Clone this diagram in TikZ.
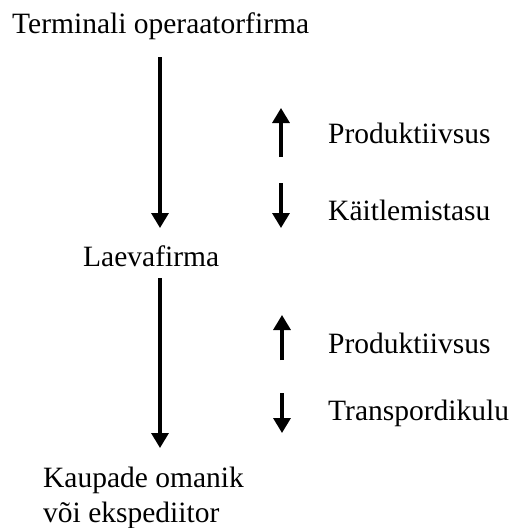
\documentclass[tikz,border=0pt]{standalone}
\usepackage{fontspec}
\setmainfont{Liberation Serif}
\usetikzlibrary{arrows.meta}
\begin{document}
\begin{tikzpicture}[x=1pt,y=-1pt,
  lbl/.style={anchor=base west,inner sep=0pt,font=\fontsize{29.5}{35}\selectfont,align=left},
  flow/.style={line width=3.3pt,-{Triangle[width=17pt,length=15pt]}}]
\useasboundingbox (0,0) rectangle (513,528);
\node[lbl] (term) at (12,33) {Terminali operaatorfirma};
\node[lbl] (laev) at (83,266) {Laevafirma};
\node[lbl] (kaup) at (43,522) {Kaupade omanik\\või ekspediitor};
\node[lbl] (p1) at (328,143) {Produktiivsus};
\node[lbl] (k1) at (328,220) {Käitlemistasu};
\node[lbl] (p2) at (328,353) {Produktiivsus};
\node[lbl] (t2) at (328,420) {Transpordikulu};
\coordinate (a1s) at (160,57);  \coordinate (a1e) at (160,228);
\coordinate (a2s) at (160,278); \coordinate (a2e) at (160,448);
\coordinate (u1s) at (281,157); \coordinate (u1e) at (281,108);
\coordinate (d1s) at (281,183); \coordinate (d1e) at (281,228);
\coordinate (u2s) at (282,360); \coordinate (u2e) at (282,315);
\coordinate (d2s) at (282,393); \coordinate (d2e) at (282,433);
\draw[flow] (a1s) -- (a1e);
\draw[flow] (a2s) -- (a2e);
\draw[flow] (u1s) -- (u1e);
\draw[flow] (d1s) -- (d1e);
\draw[flow] (u2s) -- (u2e);
\draw[flow] (d2s) -- (d2e);
\end{tikzpicture}
\end{document}
